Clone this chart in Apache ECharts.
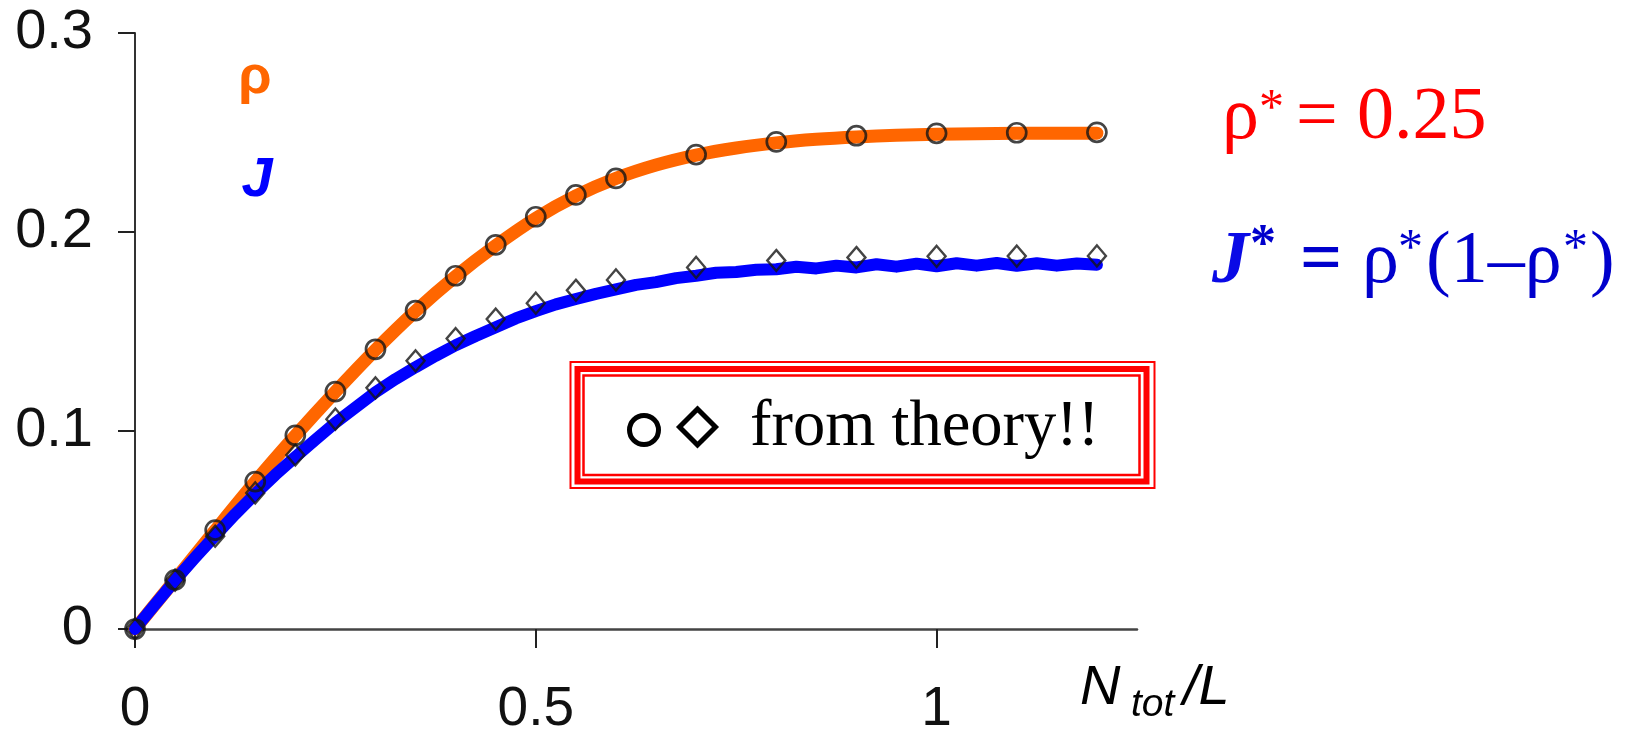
<!DOCTYPE html>
<html>
<head>
<meta charset="utf-8">
<title>rho and J vs N_tot/L</title>
<script src="https://cdn.jsdelivr.net/npm/echarts/dist/echarts.min.js"></script>
<style>
  html, body { margin: 0; padding: 0; background: #fff; }
  #main { width: 1628px; height: 732px; }
</style>
</head>
<body>
<div id="main"></div>
<script>
// theory points (circles for rho, diamonds for J)
var theoryX = [0, 0.05, 0.1, 0.15, 0.2, 0.25, 0.3, 0.35, 0.4, 0.45, 0.5, 0.55, 0.6, 0.7, 0.8, 0.9, 1.0, 1.1, 1.2];
var rhoTheory = [0, 0.0247, 0.0498, 0.0742, 0.0975, 0.1195, 0.1408, 0.1603, 0.1778, 0.1934, 0.2075, 0.2185, 0.2268, 0.2388, 0.2452, 0.2483, 0.2495, 0.2498, 0.2500];
var jTheory = [0, 0.0246, 0.0467, 0.0685, 0.0876, 0.1056, 0.1214, 0.1350, 0.1462, 0.1560, 0.1640, 0.1705, 0.1757, 0.1820, 0.1855, 0.1870, 0.1876, 0.1877, 0.1878];

// simulation curves
var rhoSimX = [0, 0.05, 0.1, 0.15, 0.2, 0.25, 0.3, 0.35, 0.4, 0.45, 0.5, 0.55, 0.6, 0.65, 0.7, 0.75, 0.8, 0.85, 0.9, 0.95, 1.0, 1.05, 1.1, 1.15, 1.2];
var rhoSim = [0, 0.0247, 0.0496, 0.0741, 0.0973, 0.1194, 0.1405, 0.1600, 0.1775, 0.1930, 0.2068, 0.2180, 0.2268, 0.2335, 0.2385, 0.2421, 0.2447, 0.2465, 0.2477, 0.2485, 0.2490, 0.2493, 0.2495, 0.2496, 0.2496];

var jSimX = [0, 0.025, 0.05, 0.075, 0.1, 0.125, 0.15, 0.175, 0.2, 0.225, 0.25, 0.275, 0.3, 0.325, 0.35, 0.375, 0.4, 0.425, 0.45, 0.475,
  0.5, 0.525, 0.55, 0.575, 0.6, 0.625, 0.65, 0.675, 0.7, 0.725, 0.75, 0.775, 0.8, 0.825, 0.85, 0.875, 0.9, 0.925, 0.95, 0.975,
  1.0, 1.025, 1.05, 1.075, 1.1, 1.125, 1.15, 1.175, 1.2];
var jSim = [0, 0.0123, 0.0245, 0.0360, 0.0470, 0.0578, 0.0680, 0.0776, 0.0866, 0.0953, 0.1038, 0.1115, 0.1192, 0.1258, 0.1318, 0.1375, 0.1428, 0.1475, 0.1519, 0.1563,
  0.1600, 0.1634, 0.1661, 0.1687, 0.1709, 0.1732, 0.1746, 0.1766, 0.1778, 0.1793, 0.1797, 0.1808, 0.1811, 0.1823, 0.1815, 0.1829, 0.1820, 0.1836, 0.1824, 0.1839,
  0.1826, 0.1841, 0.1829, 0.1842, 0.1828, 0.1841, 0.1829, 0.1840, 0.1833];

var xTicks = [0, 0.5, 1];

function pairs(xs, ys) {
  return xs.map(function (x, i) { return [x, ys[i]]; });
}

// text placed by its baseline
function txt(x, base, text, font, size, color, align) {
  return {
    type: "text",
    x: x,
    y: base - size * 0.33,
    silent: true,
    style: {
      text: text,
      font: font.replace("SZ", size + "px"),
      fill: color,
      align: align || "left",
      verticalAlign: "middle",
    },
  };
}

var SANS = '"Liberation Sans", Arial, sans-serif';
var SERIF = '"Liberation Serif", "Times New Roman", serif';

var chart = echarts.init(document.getElementById("main"));
var option = {
  animation: false,
  backgroundColor: "#fff",
  grid: { left: 135, right: 491, top: 33, bottom: 103, containLabel: false, outerBoundsMode: "none" },
  xAxis: {
    type: "value",
    min: 0,
    max: 1.25,
    interval: 0.5,
    splitLine: { show: false },
    axisLine: { show: true, onZero: false, lineStyle: { color: "#444", width: 2.5 } },
    axisTick: { show: true, length: 19, customValues: xTicks, lineStyle: { color: "#222", width: 2 } },
    axisLabel: {
      customValues: xTicks,
      margin: 53,
      fontSize: 55,
      fontFamily: SANS,
      color: "#111",
    },
  },
  yAxis: {
    type: "value",
    min: 0,
    max: 0.3,
    interval: 0.1,
    splitLine: { show: false },
    axisLine: { show: true, lineStyle: { color: "#333", width: 2 } },
    axisTick: { show: true, length: 17, lineStyle: { color: "#222", width: 2 } },
    axisLabel: {
      margin: 42,
      fontSize: 56,
      fontFamily: SANS,
      color: "#111",
    },
  },
  series: [
    {
      name: "rho sim",
      type: "line",
      data: pairs(rhoSimX, rhoSim),
      symbol: "none",
      smooth: 0.3,
      lineStyle: { color: "#ff6600", width: 13, cap: "round" },
      silent: true,
      z: 2,
    },
    {
      name: "J sim",
      type: "line",
      data: pairs(jSimX, jSim),
      symbol: "none",
      lineStyle: { color: "#0000ff", width: 12, cap: "round", join: "round" },
      silent: true,
      z: 3,
    },
    {
      name: "rho theory",
      type: "scatter",
      data: pairs(theoryX, rhoTheory),
      symbol: "circle",
      symbolSize: 19,
      itemStyle: { color: "rgba(0,0,0,0)", borderColor: "#151515", borderWidth: 2.7 },
      silent: true,
      z: 4,
    },
    {
      name: "J theory",
      type: "scatter",
      data: pairs(theoryX, jTheory),
      symbol: "diamond",
      symbolSize: [18, 21],
      itemStyle: { color: "rgba(0,0,0,0)", borderColor: "#151515", borderWidth: 2.4 },
      silent: true,
      z: 4,
    },
  ],
  graphic: [
    // curve labels
    txt(255, 96, "ρ", "bold SZ " + SANS, 54, "#ff6600", "center"),
    txt(257, 199, "J", "italic bold SZ " + SANS, 56, "#0000ff", "center"),

    // axis name N_tot / L
    txt(1080, 707, "N", "italic SZ " + SANS, 56, "#000"),
    txt(1131, 718, "tot", "italic SZ " + SANS, 39, "#000"),
    txt(1183, 707, "/L", "italic SZ " + SANS, 56, "#000"),

    // rho* = 0.25
    txt(1222, 143, "ρ", "SZ " + SERIF, 74, "#ff0000"),
    txt(1259, 126, "*", "SZ " + SERIF, 50, "#ff0000"),
    txt(1296, 143, "=", "SZ " + SERIF, 74, "#ff0000"),
    txt(1357, 143, "0.25", "SZ " + SERIF, 74, "#ff0000"),

    // J* = rho*(1-rho*)
    txt(1212, 287, "J", "italic bold SZ " + SERIF, 74, "#0a0ae6"),
    txt(1250, 264, "*", "bold SZ " + SERIF, 52, "#0000cc"),
    txt(1300, 287, "=", "bold SZ " + SERIF, 74, "#0000cc"),
    txt(1362, 287, "ρ", "SZ " + SERIF, 74, "#0000cc"),
    txt(1398, 266, "*", "SZ " + SERIF, 50, "#0000cc"),
    txt(1426, 287, "(1–ρ", "SZ " + SERIF, 74, "#0000cc"),
    txt(1563, 266, "*", "SZ " + SERIF, 50, "#0000cc"),
    txt(1590, 287, ")", "SZ " + SERIF, 74, "#0000cc"),

    // triple red frame
    { type: "rect", silent: true, shape: { x: 570.5, y: 362, width: 584, height: 126 },
      style: { fill: "none", stroke: "#ff0000", lineWidth: 2 } },
    { type: "rect", silent: true, shape: { x: 577.5, y: 369, width: 569, height: 112.5 },
      style: { fill: "none", stroke: "#ff0000", lineWidth: 6 } },
    { type: "rect", silent: true, shape: { x: 583.5, y: 375.5, width: 556, height: 99.5 },
      style: { fill: "none", stroke: "#ff0000", lineWidth: 2.5 } },
    { type: "circle", silent: true, shape: { cx: 644, cy: 430, r: 14.5 },
      style: { fill: "none", stroke: "#000", lineWidth: 5 } },
    { type: "polygon", silent: true,
      shape: { points: [[697.5, 409], [715.5, 427], [697.5, 445], [679.5, 427]] },
      style: { fill: "none", stroke: "#000", lineWidth: 5, lineJoin: "miter" } },
    txt(750, 449, "from theory!!", "SZ " + SERIF, 64.5, "#000"),
  ],
};
chart.setOption(option);
</script>
</body>
</html>
